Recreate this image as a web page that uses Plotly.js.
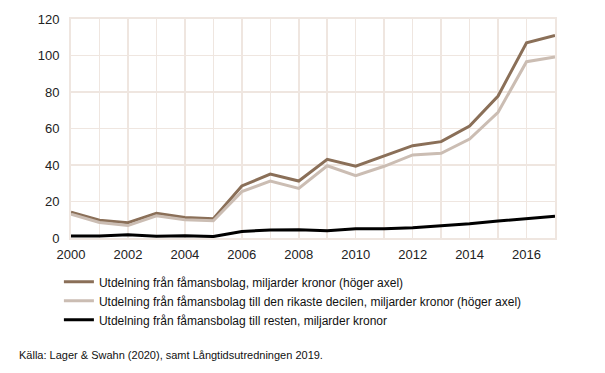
<!DOCTYPE html>
<html><head><meta charset="utf-8">
<script src="https://cdn.plot.ly/plotly-3.0.1.min.js"></script>
<style>body{margin:0;background:#fff}#c{width:605px;height:373px}</style>
</head><body><div id="c"></div>
<script>
const years = [2000,2001,2002,2003,2004,2005,2006,2007,2008,2009,2010,2011,2012,2013,2014,2015,2016,2017];
const total = [14.2,9.7,8.4,13.5,11.3,10.6,28.5,35,31.2,43.1,39.3,44.9,50.6,52.8,61.4,77.8,107,111];
const richest = [13,8.5,6.8,12.2,10,9.4,25.4,31.2,27.2,39.6,34.1,39.3,45.5,46.4,54.2,68.9,96.6,99.2];
const rest = [1.1,1.1,1.8,0.9,1.3,0.8,3.6,4.4,4.5,4.0,5.1,5.1,5.6,6.6,7.8,9.3,10.4,11.9];
const names = [
 "Utdelning från fåmansbolag, miljarder kronor (höger axel)",
 "Utdelning från fåmansbolag till den rikaste decilen, miljarder kronor (höger axel)",
 "Utdelning från fåmansbolag till resten, miljarder kronor"
];
const xTicks = [2000,2002,2004,2006,2008,2010,2012,2014,2016];
const yTicks = [0,20,40,60,80,100,120];
const grid = '#efe6e0';
const traces = [
 {x:years,y:total,name:names[0],mode:'lines',line:{color:'#8a6f58',width:3}},
 {x:years,y:richest,name:names[1],mode:'lines',line:{color:'#cbbdb3',width:3}},
 {x:years,y:rest,name:names[2],mode:'lines',line:{color:'#000000',width:3}}
];
const layout = {
 width:605,height:373,
 margin:{l:71,r:50,t:19,b:135},
 paper_bgcolor:'#fff',plot_bgcolor:'#fff',
 font:{family:'Liberation Sans, Arial, sans-serif',size:12,color:'#111'},
 showlegend:true,
 legend:{x:-0.025,xanchor:'left',y:-0.134,yanchor:'top',font:{size:12,color:'#111'},tracegroupgap:0,itemwidth:30,bgcolor:'rgba(0,0,0,0)'},
 xaxis:{range:[2000,2017],tickvals:xTicks,ticktext:xTicks.map(String),showgrid:true,gridcolor:grid,gridwidth:1.5,
   minor:{dtick:1,showgrid:true,gridcolor:grid,gridwidth:1.5},
   showline:true,linecolor:grid,linewidth:2,mirror:true,zeroline:false,ticks:'',ticklabelstandoff:3,
   tickfont:{size:13,color:'#222'},fixedrange:true},
 yaxis:{range:[0,120],tickvals:yTicks,showgrid:true,gridcolor:grid,gridwidth:1.5,
   showline:true,linecolor:grid,linewidth:2,mirror:true,zeroline:false,ticks:'',ticklabelstandoff:7,
   tickfont:{size:13,color:'#222'},fixedrange:true},
 annotations:[{xref:'paper',yref:'paper',x:-0.112,y:-0.534,xanchor:'left',yanchor:'middle',showarrow:false,
   text:'Källa: Lager & Swahn (2020), samt Långtidsutredningen 2019.',font:{size:11,color:'#111'}}]
};
Plotly.newPlot('c',traces,layout,{staticPlot:true});
</script></body></html>
